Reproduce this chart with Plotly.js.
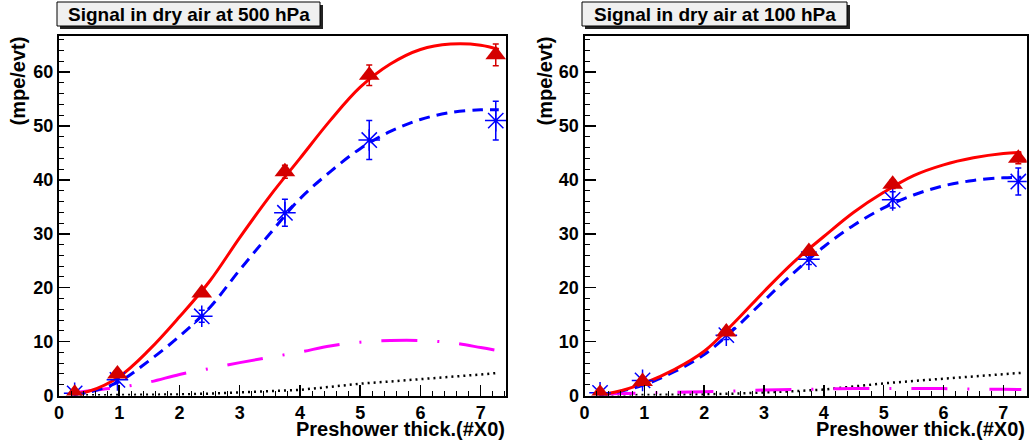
<!DOCTYPE html>
<html><head><meta charset="utf-8">
<script src="https://cdn.plot.ly/plotly-3.0.1.min.js"></script>
<style>html,body{margin:0;padding:0;background:#fff}#chart{width:1029px;height:442px}</style>
</head><body><div id="chart"></div>
<script>
// ---- data ----
const panelTitles = ['Signal in dry air at 500 hPa', 'Signal in dry air at 100 hPa'];
const xLabel = 'Preshower thick.(#X0)';
const yLabel = '(mpe/evt)';
const xTicks = [0, 1, 2, 3, 4, 5, 6, 7];
const yTicks = [0, 10, 20, 30, 40, 50, 60];

const ptX = [0.26, 0.97, 2.37, 3.75, 5.15, 7.25];
// 500 hPa
const red500 = [0.4, 4.0, 19.0, 41.5, 59.4, 63.2];
const red500Err = [0.2, 0.4, 0.6, 1.2, 1.9, 2.0];
const blue500 = [0.4, 2.9, 14.7, 33.9, 47.4, 51.0];
const blue500Err = [0.3, 0.5, 1.1, 2.5, 3.6, 3.6];
// 100 hPa
const red100 = [0.4, 2.6, 11.8, 26.7, 39.2, 44.0];
const red100Err = [0.2, 0.3, 0.4, 0.6, 0.8, 1.0];
const blue100 = [0.5, 2.8, 11.2, 25.3, 36.3, 39.7];
const blue100Err = [0.3, 0.5, 0.8, 1.0, 1.5, 2.5];

// fitted curves
const fitX = [0.25, 0.5, 1, 1.5, 2, 2.5, 3, 3.5, 4, 4.5, 5, 5.5, 6, 6.5, 7, 7.3];
const redFit500 = [0.3, 0.8, 3.5, 8.5, 14.6, 21.2, 29.3, 37.0, 44.0, 51.0, 57.2, 61.5, 64.2, 65.2, 65.0, 64.2];
const blueFit500 = [0.2, 0.6, 2.6, 6.5, 11.0, 16.3, 23.3, 30.0, 36.5, 41.5, 45.8, 49.0, 51.2, 52.5, 53.0, 53.0];
const magFit500 = [0.5, 0.9, 1.5, 2.5, 3.9, 5.0, 6.1, 7.1, 8.05, 9.2, 9.9, 10.2, 10.2, 9.8, 8.9, 8.3];
const dotFit500 = [0, 0.01, 0.05, 0.1, 0.2, 0.35, 0.55, 0.8, 1.05, 1.6, 2.2, 2.6, 3.0, 3.45, 3.9, 4.2];
const redFit100 = [0.2, 0.6, 2.3, 4.8, 8.2, 13.5, 19.3, 24.8, 29.5, 34.0, 37.7, 40.8, 42.8, 44.1, 44.9, 45.1];
const blueFit100 = [0.1, 0.5, 2.0, 4.4, 7.6, 12.3, 17.6, 22.8, 27.6, 31.6, 34.8, 37.2, 38.9, 39.9, 40.4, 40.5];
const magFit100 = [0.15, 0.3, 0.45, 0.6, 0.7, 0.85, 1.0, 1.1, 1.2, 1.3, 1.3, 1.3, 1.28, 1.2, 1.15, 1.1];
const dotFit100 = [0, 0.01, 0.05, 0.1, 0.2, 0.35, 0.55, 0.8, 1.1, 1.7, 2.25, 2.7, 3.1, 3.5, 3.95, 4.2];

// ---- drawing ----
const W = 1029, H = 442;
const FONT = 'Liberation Sans, Arial, Helvetica, sans-serif';
const px = v => v / W;
const py = v => 1 - v / H;

function panel(xa, ya, redFit, blueFit, magFit, dotFit, red, redErr, blue, blueErr) {
  const common = {xaxis: xa, yaxis: ya, hoverinfo: 'skip', showlegend: false};
  return [
    Object.assign({x: fitX, y: dotFit, mode: 'lines', line: {color: 'black', width: 2.5, dash: '2px,4px'}}, common),
    Object.assign({x: fitX, y: magFit, mode: 'lines', line: {color: '#ff00ff', width: 3, dash: '36px,20px,2px,20px', shape: 'spline'}}, common),
    Object.assign({x: fitX, y: blueFit, mode: 'lines', line: {color: '#0000ff', width: 3, dash: '11px,7px', shape: 'spline'}}, common),
    Object.assign({x: fitX, y: redFit, mode: 'lines', line: {color: '#ff0000', width: 3, shape: 'spline'}}, common),
    Object.assign({x: ptX, y: blue, mode: 'markers',
      marker: {symbol: 'asterisk-open', size: 18, color: '#0000ff', line: {color: '#0000ff', width: 1.5}},
      error_y: {type: 'data', array: blueErr, visible: true, color: '#0000ff', thickness: 1.5, width: 3}}, common),
    Object.assign({x: ptX, y: red, mode: 'markers',
      marker: {symbol: 'triangle-up', size: 18, color: '#d40000', line: {width: 0}},
      error_y: {type: 'data', array: redErr, visible: true, color: '#d40000', thickness: 1.5, width: 3}}, common)
  ];
}

const data = [].concat(
  panel('x', 'y', redFit500, blueFit500, magFit500, dotFit500, red500, red500Err, blue500, blue500Err),
  panel('x2', 'y2', redFit100, blueFit100, magFit100, dotFit100, red100, red100Err, blue100, blue100Err)
);

const tickFont = {family: FONT, size: 18, color: 'black', weight: 'bold'};
function xAxis(dom, rng, anchor) {
  return {domain: dom, range: rng, anchor: anchor, tickvals: xTicks, ticktext: xTicks.map(String),
    ticks: 'inside', ticklen: 11, tickwidth: 1.5, tickcolor: 'black',
    minor: {dtick: 0.2, tick0: 0, ticks: 'inside', ticklen: 5, tickwidth: 1, tickcolor: 'black'},
    showline: true, linewidth: 2, linecolor: 'black', mirror: true,
    showgrid: false, zeroline: false, tickfont: tickFont, automargin: false, fixedrange: true};
}
function yAxis(dom, rng, anchor) {
  return {domain: dom, range: rng, anchor: anchor, tickvals: yTicks, ticktext: yTicks.map(String),
    ticks: 'inside', ticklen: 11, tickwidth: 1.5, tickcolor: 'black',
    minor: {dtick: 2, tick0: 0, ticks: 'inside', ticklen: 5, tickwidth: 1, tickcolor: 'black'},
    showline: true, linewidth: 2, linecolor: 'black', mirror: true,
    showgrid: false, zeroline: false, tickfont: tickFont, automargin: false, fixedrange: true};
}

const yDom = [46.5 / H, 406 / H];
const titleBoxes = [[57, 2, 320, 26], [582, 2, 847, 26]];
const shapes = [];
const annotations = [];
titleBoxes.forEach((b, i) => {
  shapes.push({type: 'rect', xref: 'paper', yref: 'paper', x0: px(b[0] + 3), x1: px(b[2] + 3), y0: py(b[1] + 3), y1: py(b[3] + 3),
    fillcolor: '#222', line: {width: 0}, layer: 'above'});
  shapes.push({type: 'rect', xref: 'paper', yref: 'paper', x0: px(b[0]), x1: px(b[2]), y0: py(b[1]), y1: py(b[3]),
    fillcolor: '#f0f0f0', line: {color: 'black', width: 1}, layer: 'above'});
  annotations.push({xref: 'paper', yref: 'paper', x: px((b[0] + b[2]) / 2), y: py((b[1] + b[3]) / 2), xanchor: 'center', yanchor: 'middle',
    text: panelTitles[i], showarrow: false, font: {family: FONT, size: 19, color: 'black', weight: 'bold'}});
});
[[507, 18], [1027, 545]].forEach(p => {
  annotations.push({xref: 'paper', yref: 'paper', x: px(p[0]), y: 0, xanchor: 'right', yanchor: 'bottom',
    text: xLabel, showarrow: false, font: {family: FONT, size: 20, color: 'black', weight: 'bold'}});
  annotations.push({xref: 'paper', yref: 'paper', x: px(p[1]), y: py(35), xanchor: 'center', yanchor: 'top', textangle: -90,
    text: yLabel, showarrow: false, font: {family: FONT, size: 20, color: 'black', weight: 'bold'}});
});

const layout = {
  width: W, height: H, margin: {l: 0, r: 0, t: 0, b: 0, autoexpand: false},
  paper_bgcolor: 'white', plot_bgcolor: 'white', showlegend: false,
  xaxis: xAxis([59 / W, 506 / W], [0, 7.42], 'y'),
  yaxis: yAxis(yDom, [0, 66.7], 'x'),
  xaxis2: xAxis([584.5 / W, 1026.7 / W], [0, 7.39], 'y2'),
  yaxis2: yAxis(yDom, [0, 66.7], 'x2'),
  shapes: shapes, annotations: annotations
};

Plotly.newPlot('chart', data, layout, {staticPlot: true, displayModeBar: false});
</script></body></html>
